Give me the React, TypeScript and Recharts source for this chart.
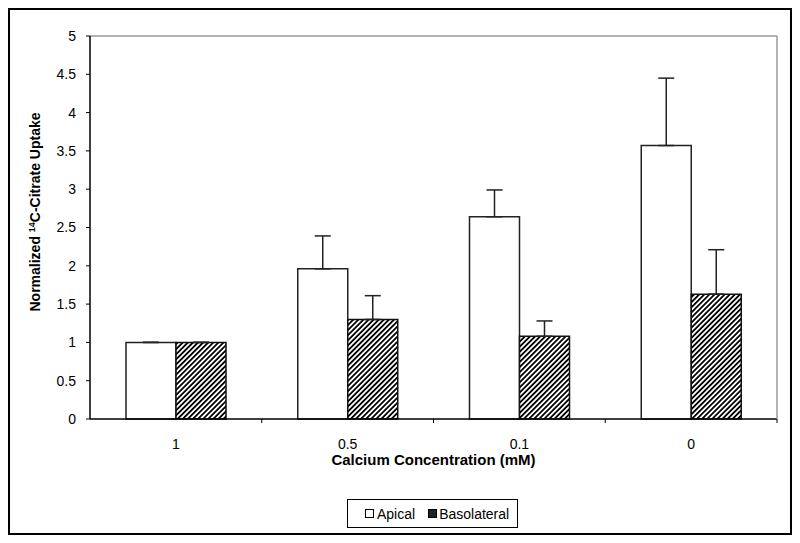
import React from 'react';
import { BarChart, Bar, XAxis, YAxis, ErrorBar, ReferenceLine, Legend, Label } from 'recharts';

const categories = ['1', '0.5', '0.1', '0'];
const apical = [1, 1.96, 2.64, 3.57];
const apicalErr = [0, 0.43, 0.35, 0.88];
const basolateral = [1, 1.3, 1.08, 1.63];
const basolateralErr = [0, 0.31, 0.2, 0.58];
const yTicks = [0, 0.5, 1, 1.5, 2, 2.5, 3, 3.5, 4, 4.5, 5];
const seriesNames = ['Apical', 'Basolateral'];

const data = categories.map((c, i) => ({
  cat: c,
  apical: apical[i],
  apicalErr: [0, apicalErr[i]],
  basolateral: basolateral[i],
  basolateralErr: [0, basolateralErr[i]],
}));

const FONT = '"Liberation Sans", Arial, sans-serif';
const X_TICK_MARGIN = 20;

const XTick = (props: any) => {
  const { x, y, payload } = props;
  const axisY = y - X_TICK_MARGIN;
  const half = payload && payload.offset ? payload.offset : 0;
  return (
    <g>
      <line x1={x + half} x2={x + half} y1={axisY} y2={axisY + 4} stroke="#000" strokeWidth={1} />
      <text x={x} y={y} dy="0.71em" textAnchor="middle" fontFamily={FONT} fontSize={14} fill="#000">
        {payload.value}
      </text>
    </g>
  );
};

const YLabel = (props: any) => {
  const vb = props.viewBox || {};
  const x = vb.x + 10;
  const y = 202;
  return (
    <text
      x={x}
      y={y}
      transform={`rotate(-90, ${x}, ${y})`}
      textAnchor="middle"
      fontFamily={FONT}
      fontSize={14}
      fontWeight="bold"
      fill="#000"
    >
      <tspan>Normalized </tspan>
      <tspan dy={-5} fontSize={9}>14</tspan>
      <tspan dy={5}>C-Citrate Uptake</tspan>
    </text>
  );
};

const LegendContent = () => (
  <div
    style={{
      border: '1px solid #000',
      width: 171,
      height: 29,
      boxSizing: 'border-box',
      display: 'flex',
      alignItems: 'center',
      fontFamily: FONT,
      fontSize: 14,
      color: '#000',
      paddingLeft: 17,
    }}
  >
    <span style={{ display: 'inline-block', width: 7, height: 7, border: '1px solid #000', background: '#fff', marginRight: 3 }} />
    <span style={{ marginRight: 13 }}>{seriesNames[0]}</span>
    <span style={{ display: 'inline-block', width: 7, height: 7, border: '1px solid #000', background: '#222', marginRight: 2 }} />
    <span>{seriesNames[1]}</span>
  </div>
);

export default function App() {
  return (
    <div
      style={{
        width: 784,
        height: 527,
        border: '2px solid #000',
        boxSizing: 'border-box',
        background: '#fff',
      }}
    >
      <BarChart
        width={780}
        height={523}
        data={data}
        margin={{ top: 26, right: 12, left: 20, bottom: 54 }}
        barCategoryGap={36}
        barGap={0}
      >
        <defs>
          <pattern id="hatch" patternUnits="userSpaceOnUse" width={3.6} height={3.6} patternTransform="rotate(45)">
            <rect x={0} y={0} width={3.6} height={3.6} fill="#fff" />
            <rect x={0} y={0} width={1.8} height={3.6} fill="#000" />
          </pattern>
        </defs>
        <XAxis
          dataKey="cat"
          height={60}
          axisLine={{ stroke: '#000', strokeWidth: 1.5 }}
          tickLine={false}
          tickSize={0}
          tickMargin={X_TICK_MARGIN}
          tick={<XTick />}
        >
          <Label
            value="Calcium Concentration (mM)"
            position="bottom"
            offset={-25}
            style={{ fontFamily: FONT, fontSize: 15, fontWeight: 'bold', fill: '#000' }}
          />
        </XAxis>
        <YAxis
          domain={[0, 5]}
          ticks={yTicks}
          width={60}
          axisLine={{ stroke: '#000', strokeWidth: 1.5 }}
          tickLine={{ stroke: '#000' }}
          tickSize={4}
          tickMargin={10}
          tick={{ fill: '#000', fontSize: 14, fontFamily: FONT }}
          interval={0}
        >
          <Label content={YLabel} />
        </YAxis>
        <YAxis yAxisId="r" orientation="right" width={1} tick={false} tickLine={false} axisLine={{ stroke: '#999', strokeWidth: 1.5 }} domain={[0, 5]} />
        <ReferenceLine y={5} stroke="#999" strokeWidth={1.5} />
        <Legend
          verticalAlign="middle"
          layout="horizontal"
          content={<LegendContent />}
          wrapperStyle={{ position: 'absolute', left: 337, top: 489, width: 171, height: 29 }}
        />
        <Bar dataKey="apical" name={seriesNames[0]} fill="#fff" stroke="#222" strokeWidth={1.5} isAnimationActive={false}>
          <ErrorBar dataKey="apicalErr" width={8} stroke="#222" strokeWidth={1.5} direction="y" />
        </Bar>
        <Bar dataKey="basolateral" name={seriesNames[1]} fill="url(#hatch)" stroke="#111" strokeWidth={1.5} isAnimationActive={false}>
          <ErrorBar dataKey="basolateralErr" width={8} stroke="#222" strokeWidth={1.5} direction="y" />
        </Bar>
      </BarChart>
    </div>
  );
}
